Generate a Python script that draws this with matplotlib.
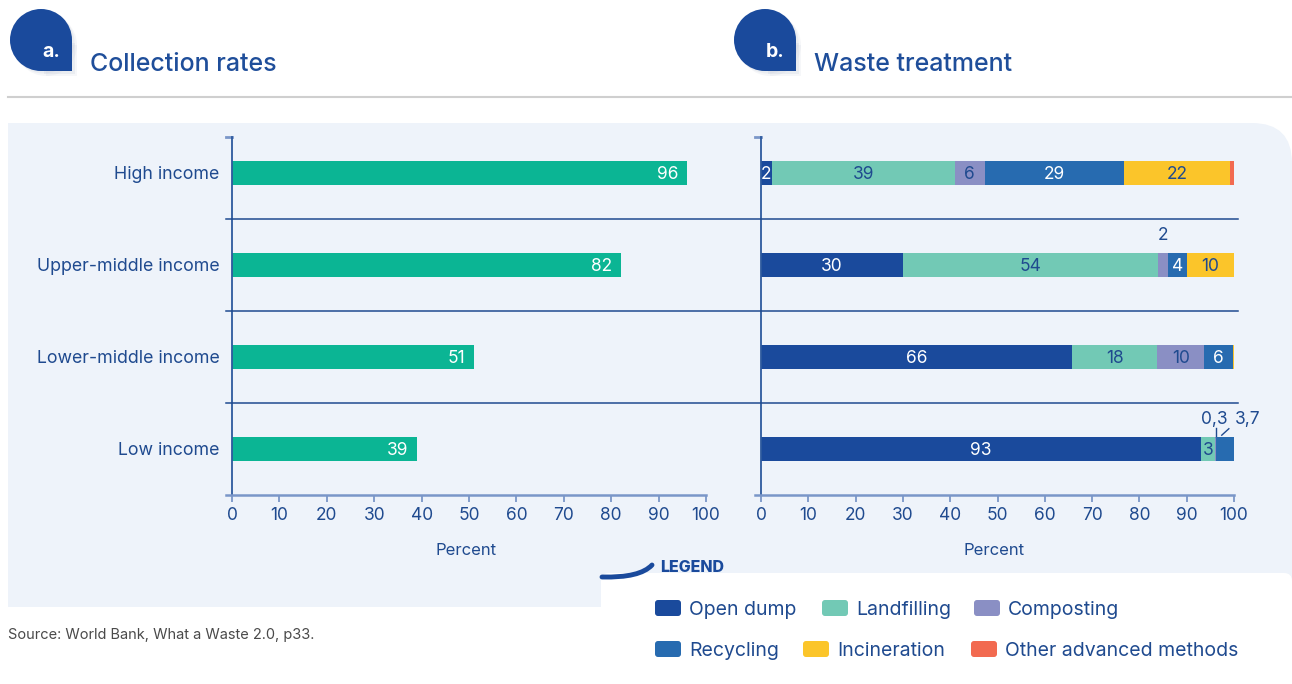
import numpy as np
import matplotlib
matplotlib.use("Agg")
import matplotlib.pyplot as plt
from matplotlib.patches import Rectangle, Circle, FancyBboxPatch, PathPatch
from matplotlib.path import Path
from matplotlib import transforms

plt.rcParams['font.family'] = ['Inter', 'DejaVu Sans']

# ---- data ----
groups = ["High income", "Upper-middle income", "Lower-middle income", "Low income"]
collection = [96, 82, 51, 39]

methods = ["Open dump", "Landfilling", "Composting", "Recycling", "Incineration",
           "Other advanced methods"]
method_colors = ["#1A4A9C", "#72C9B5", "#8A8FC4", "#276BB0", "#FBC52A", "#F26A50"]
label_colors = ["white", "#1F4A8F", "#1F4A8F", "white", "#1F4A8F", "#1F4A8F"]
open_dump    = [2.3, 30, 65.8, 93]
landfilling  = [38.7, 54, 18, 3]
composting   = [6.3, 2, 9.9, 0.3]
recycling    = [29.4, 4, 6, 3.7]
incineration = [22.4, 10, 0.3, 0]
other        = [0.9, 0, 0, 0]
treatment = [open_dump, landfilling, composting, recycling, incineration, other]
# segments whose value is written outside the bar: (group, method)
outside = [(1, 2), (3, 2), (3, 3)]

dark = "#1F4A8F"
axis_light = "#7A96C8"
panel_bg = "#EEF3FA"
W, H = 1292, 684

fig = plt.figure(figsize=(W / 100, H / 100), dpi=100)

# background layer in pixel coords
bg = fig.add_axes([0, 0, 1, 1], zorder=0)
bg.set_xlim(0, W)
bg.set_ylim(H, 0)
bg.axis("off")

# light panel with rounded top-right corner
r = 40
verts = [(8, 123), (W - r, 123), (W, 123), (W, 123 + r), (W, 607), (8, 607), (8, 123)]
codes = [Path.MOVETO, Path.LINETO, Path.CURVE3, Path.CURVE3, Path.LINETO, Path.LINETO, Path.CLOSEPOLY]
bg.add_patch(PathPatch(Path(verts, codes), facecolor=panel_bg, edgecolor="none"))

# header rule
bg.plot([8, W], [97, 97], color="#CFCFCF", lw=1.5)

# title badges
for bx, letter, title, tx in [(10, "a.", "Collection rates", 90), (734, "b.", "Waste treatment", 814)]:
    for off, col, al in [(5, "#B8C0D0", 0.12), (2.5, "#B8C0D0", 0.18), (0, "#1A4A9C", 1)]:
        cx, cy = bx + 31 + off, 40 + off
        bg.add_patch(Circle((cx, cy), 31, facecolor=col, alpha=al, edgecolor="none"))
        bg.add_patch(Rectangle((cx, cy), 31, 31, facecolor=col, alpha=al, edgecolor="none"))
    bg.text(bx + 41, 50, letter, color="white", fontsize=14, fontweight="bold",
            ha="center", va="center_baseline")
    bg.text(tx, 62, title, color="#1F4E9A", fontsize=18, fontweight="medium",
            ha="left", va="center_baseline")

bg.text(8, 634, "Source: World Bank, What a Waste 2.0, p33.", color="#4A4A4A",
        fontsize=10.5, ha="left", va="center_baseline")

# legend box
bg.add_patch(FancyBboxPatch((604, 576), W - 604, H - 576, boxstyle="round,pad=0,rounding_size=8",
                            facecolor="#DDE3EC", edgecolor="none", alpha=0.5))
bg.add_patch(FancyBboxPatch((601, 573), W - 601, H - 573 + 10, boxstyle="round,pad=0,rounding_size=8",
                            facecolor="white", edgecolor="none"))
swoosh = Path([(602, 577), (640, 578), (652, 565)], [Path.MOVETO, Path.CURVE3, Path.CURVE3])
bg.add_patch(PathPatch(swoosh, facecolor="none", edgecolor="#1A4A9C", lw=3.5, capstyle="round"))
bg.text(660, 566, "LEGEND", color="#1A4A9C", fontsize=11.5, fontweight="heavy",
        ha="left", va="center_baseline")
leg_pos = [(655, 608), (822, 608), (974, 608), (655, 649), (803, 649), (971, 649)]
for (lx, ly), name, col in zip(leg_pos, methods, method_colors):
    bg.add_patch(FancyBboxPatch((lx, ly - 8), 26, 16, boxstyle="round,pad=0,rounding_size=3",
                                facecolor=col, edgecolor="none"))
    bg.text(lx + 34, ly, name, color=dark, fontsize=14, ha="left", va="center_baseline")

ypos = np.arange(len(groups))[::-1]
bar_h = 0.26


def style_axis(ax):
    ax.set_facecolor("none")
    ax.set_xlim(-1.27, 100)
    ax.set_ylim(-0.5, 3.39)
    for s in ["top", "right"]:
        ax.spines[s].set_visible(False)
    ax.spines["left"].set_position(("data", 0))
    ax.spines["left"].set_color("#2D5A9E")
    ax.spines["left"].set_linewidth(1.3)
    ax.spines["bottom"].set_color(axis_light)
    ax.spines["bottom"].set_linewidth(1.8)
    ax.set_xticks(np.arange(0, 101, 10))
    ax.tick_params(axis="x", colors=axis_light, labelcolor=dark, labelsize=12.5,
                   length=5, width=1.3, pad=4)
    ax.tick_params(axis="y", length=0, labelcolor=dark, labelsize=12.8, pad=9)
    ax.set_xlabel("Percent", color=dark, fontsize=12, labelpad=13)
    ax.plot([-1.27, 0], [3.39, 3.39], color=axis_light, lw=2, clip_on=False)


ax1 = fig.add_axes([226 / W, (H - 495) / H, 480 / W, 358 / H], zorder=1)
style_axis(ax1)
ax1.barh(ypos, collection, height=bar_h, color="#0BB594", zorder=2)
ax1.set_yticks(ypos, groups)
for y, v in zip(ypos, collection):
    ax1.text(v - 1.8, y, f"{v}", color="white", fontsize=12.5, ha="right",
             va="center_baseline", zorder=3)

ax2 = fig.add_axes([755 / W, (H - 495) / H, 479 / W, 358 / H], zorder=1)
style_axis(ax2)
ax2.set_yticks(ypos, [""] * len(groups))
left = np.zeros(len(groups))
for m, vals in enumerate(treatment):
    vals = np.array(vals, dtype=float)
    ax2.barh(ypos, vals, left=left, height=bar_h, color=method_colors[m], zorder=2)
    for g, (y, v, l) in enumerate(zip(ypos, vals, left)):
        if (g, m) in outside:
            txt = f"{v:g}".replace(".", ",")
            if m == 3:
                ax2.plot([l + v * 0.3, l + v * 0.3 + 1.5], [y + bar_h / 2 + 0.02, y + 0.22],
                         color=dark, lw=1, clip_on=False)
                tx = l + v + 2.8
            elif v < 1:
                tx = l + v / 2 - 0.3
                ax2.plot([l + v / 2, l + v / 2], [y + bar_h / 2, y + 0.23], color=dark, lw=1)
            else:
                tx = l + v / 2
            ax2.text(tx, y + 0.34, txt, color=dark, fontsize=12.5, ha="center",
                     va="center_baseline")
        elif v >= 1.5:
            ax2.text(l + v / 2, y, f"{v:.0f}", color=label_colors[m], fontsize=12.5,
                     ha="center", va="center_baseline", zorder=3)
    left += vals

# category separators spanning both panels
sep_tr = transforms.blended_transform_factory(fig.transFigure, ax1.transData)
for yb in ypos[:-1] - 0.5:
    fig.add_artist(plt.Line2D([226 / W, 1238 / W], [yb, yb], transform=sep_tr,
                              color=dark, lw=1.1, zorder=3))

fig.savefig("out.png", dpi=100)
